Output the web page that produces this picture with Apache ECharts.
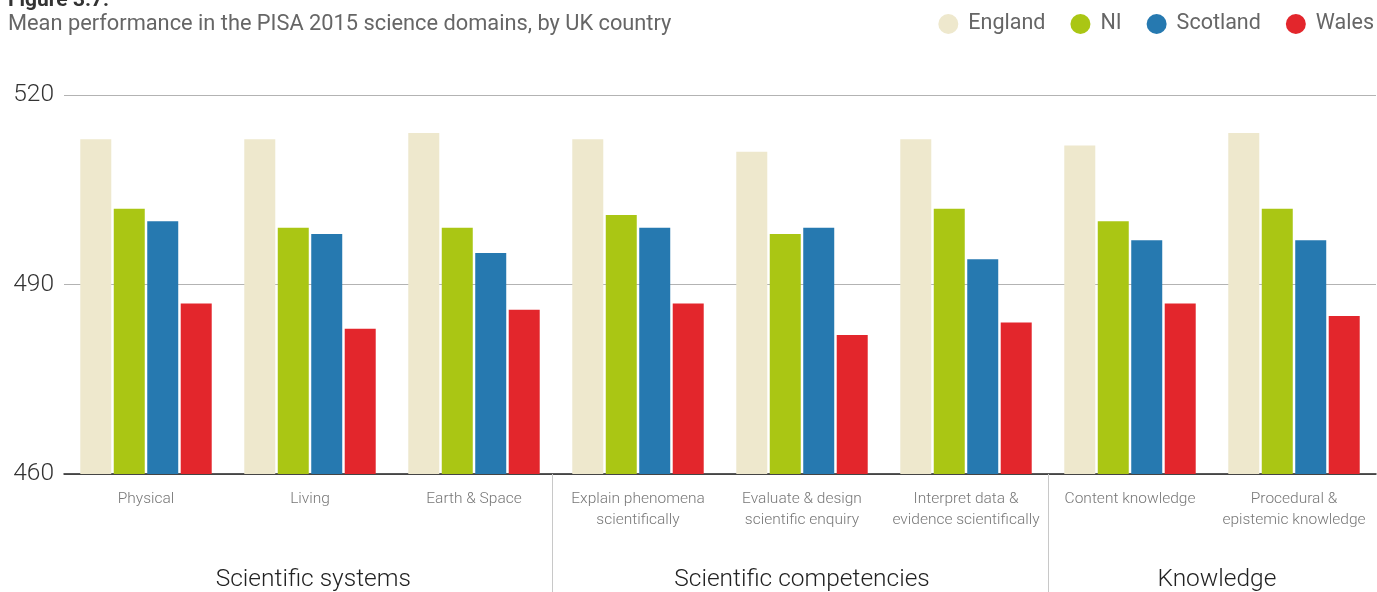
<!DOCTYPE html>
<html>
<head>
<meta charset="utf-8">
<title>PISA 2015 science domains by UK country</title>
<script src="https://cdn.jsdelivr.net/npm/echarts@6/dist/echarts.min.js"></script>
<style>
  html, body { margin: 0; padding: 0; background: #fff; }
  #chart { width: 1377px; height: 592px; }
</style>
</head>
<body>
<div id="chart"></div>
<script>
// Science domains (x-axis categories)
const domains = [
  'Physical',
  'Living',
  'Earth & Space',
  'Explain phenomena\nscientifically',
  'Evaluate & design\nscientific enquiry',
  'Interpret data &\nevidence scientifically',
  'Content knowledge',
  'Procedural &\nepistemic knowledge'
];

// Domain groupings and where their labels / dividers sit (in category units)
const groupNames = ['Scientific systems', 'Scientific competencies', 'Knowledge'];
const groupCentres = [1.52, 4.5, 7.03];
const groupBoundaries = [2.98, 6];

// Mean scores per country
const england  = [513, 513, 514, 513, 511, 513, 512, 514];
const ni       = [502, 499, 499, 501, 498, 502, 500, 502];
const scotland = [500, 498, 495, 499, 499, 494, 497, 497];
const wales    = [487, 483, 486, 487, 482, 484, 487, 485];

// Y-axis ticks
const yTicks = [460, 490, 520];

const FONT = 'Roboto, "Noto Sans", sans-serif';
const colours = { England: '#EEE8CD', NI: '#AAC614', Scotland: '#2679B0', Wales: '#E3262C' };

const chart = echarts.init(document.getElementById('chart'), null, { renderer: 'canvas' });

function barSeries(name, data) {
  return {
    name: name,
    type: 'bar',
    data: data,
    barWidth: 31,
    barGap: '8%',
    itemStyle: { color: colours[name] },
    emphasis: { disabled: true }
  };
}

chart.setOption({
  animation: false,
  textStyle: { fontFamily: FONT },
  title: [
    {
      text: 'Figure 3.7:',
      left: 8, top: -10,
      padding: 0,
      textStyle: { fontFamily: FONT, fontSize: 21, fontWeight: 'bold', color: '#333' }
    },
    {
      text: 'Mean performance in the PISA 2015 science domains, by UK country',
      left: 8, top: 14,
      padding: 0,
      textStyle: { fontFamily: FONT, fontSize: 21.8, fontWeight: 'normal', color: '#666' }
    }
  ],
  legend: {
    right: 3, top: 13,
    padding: 0,
    icon: 'circle',
    itemWidth: 20, itemHeight: 20,
    itemGap: 25,
    selectedMode: false,
    textStyle: { fontFamily: FONT, fontSize: 21.5, color: '#666', padding: [2, 0, 0, 5] },
    data: ['England', 'NI', 'Scotland', 'Wales']
  },
  grid: { left: 64, right: 1, top: 95, bottom: 118, containLabel: false },
  xAxis: [
    {
      type: 'category',
      data: domains,
      axisLine: { show: true, lineStyle: { color: '#222', width: 1.5 } },
      axisTick: { show: false },
      axisLabel: {
        interval: 0,
        margin: 15,
        fontFamily: FONT, fontSize: 15.5, fontWeight: 300,
        lineHeight: 21,
        color: '#777'
      }
    },
    {
      type: 'value',
      min: 0, max: 8,
      position: 'bottom',
      offset: 0,
      axisLine: { show: false },
      splitLine: { show: false },
      axisTick: {
        show: true,
        customValues: groupBoundaries,
        length: 118,
        lineStyle: { color: '#c8c8c8', width: 1 }
      },
      axisLabel: {
        customValues: groupCentres,
        margin: 93,
        fontFamily: FONT, fontSize: 24.5, fontWeight: 300,
        color: '#222',
        formatter: function (v) {
          const i = groupCentres.indexOf(v);
          return i >= 0 ? groupNames[i] : '';
        }
      }
    }
  ],
  yAxis: {
    type: 'value',
    min: yTicks[0],
    max: yTicks[yTicks.length - 1],
    interval: 30,
    axisLine: { show: false },
    axisTick: { show: false },
    axisLabel: {
      margin: 10,
      fontFamily: FONT, fontSize: 24.5, fontWeight: 300,
      color: '#333'
    },
    splitLine: { show: true, lineStyle: { color: '#b3b3b3', width: 1 } }
  },
  series: [
    barSeries('England', england),
    barSeries('NI', ni),
    barSeries('Scotland', scotland),
    barSeries('Wales', wales)
  ]
});
</script>
</body>
</html>
